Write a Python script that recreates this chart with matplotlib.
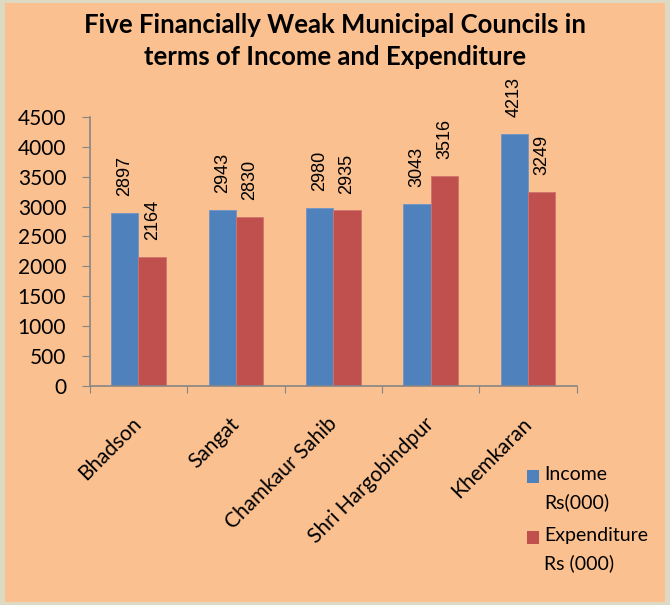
import matplotlib
matplotlib.use("Agg")
import matplotlib.pyplot as plt
import matplotlib.transforms as mtransforms
from matplotlib.patches import Rectangle
import numpy as np

# Datos
councils = ["Bhadson", "Sangat", "Chamkaur Sahib", "Shri Hargobindpur", "Khemkaran"]
income = [2897, 2943, 2980, 3043, 4213]
expenditure = [2164, 2830, 2935, 3516, 3249]
y_ticks = [0, 500, 1000, 1500, 2000, 2500, 3000, 3500, 4000, 4500]
series_names = ["Income\nRs(000)", "Expenditure\nRs (000)"]

bg = "#FAC090"
blue = "#4F81BD"
red = "#C0504D"
axis_gray = "#868686"
lato = ["Lato", "DejaVu Sans"]

fig = plt.figure(figsize=(6.7, 6.05), dpi=100)
fig.patch.set_facecolor("#DDD9C3")
fig.patches.append(Rectangle((0.008, 0.005), 0.984, 0.99, transform=fig.transFigure,
                             facecolor=bg, edgecolor="none", zorder=-5))

ax = fig.add_axes([0.134, 0.362, 0.727, 0.445])
ax.set_facecolor("none")

x = np.arange(len(councils))
w = 0.28
b1 = ax.bar(x - w / 2, income, w, color=blue, edgecolor="#6F95C8", linewidth=0.6)
b2 = ax.bar(x + w / 2, expenditure, w, color=red, edgecolor="#D07370", linewidth=0.6)

for bars in (b1, b2):
    for b in bars:
        ax.annotate(str(int(b.get_height())), (b.get_x() + b.get_width() / 2, b.get_height()),
                    xytext=(0, 12), textcoords="offset points", rotation=90,
                    ha="center", va="bottom", fontsize=13, family="Liberation Sans")

ax.set_xlim(-0.5, len(councils) - 0.5)
ax.set_ylim(0, 4500)
ax.set_yticks(y_ticks)
ax.set_yticklabels([str(v) for v in y_ticks], fontsize=15, family=lato)
ax.set_xticks(np.arange(len(councils) + 1) - 0.5)
ax.set_xticklabels([])
ax.set_xticks(x, minor=True)
ax.set_xticklabels(councils, minor=True, rotation=45, ha="right", rotation_mode="anchor",
                   fontsize=15, family=lato)
ax.tick_params(axis="x", which="minor", length=0, pad=20)
ax.tick_params(axis="x", which="major", length=5, color=axis_gray, direction="out")
ax.tick_params(axis="y", length=6, color=axis_gray, direction="out", pad=11)

# mover etiquetas un poco a la izquierda
shift = mtransforms.ScaledTranslation(-5 / 72, 0, fig.dpi_scale_trans)
for lbl in ax.get_xticklabels(minor=True):
    lbl.set_transform(lbl.get_transform() + shift)

for s in ["top", "right"]:
    ax.spines[s].set_visible(False)
for s in ["left", "bottom"]:
    ax.spines[s].set_color(axis_gray)
    ax.spines[s].set_linewidth(1.2)

fig.text(0.5, 0.978, "Five Financially Weak Municipal Councils in\nterms of Income and Expenditure",
         ha="center", va="top", fontsize=18.5, fontweight="bold", family=lato, linespacing=1.4)

# leyenda manual
for i, (name, col) in enumerate(zip(series_names, [blue, red])):
    ytop = 0.2231 - i * 0.1008
    fig.patches.append(Rectangle((0.787, ytop - 0.0214), 0.018, 0.0214, transform=fig.transFigure,
                                 facecolor=col, edgecolor="none"))
    fig.text(0.812, ytop + 0.007, name, ha="left", va="top", fontsize=14, family=lato,
             linespacing=1.7)

fig.savefig("out.png", dpi=100, facecolor=fig.get_facecolor())
